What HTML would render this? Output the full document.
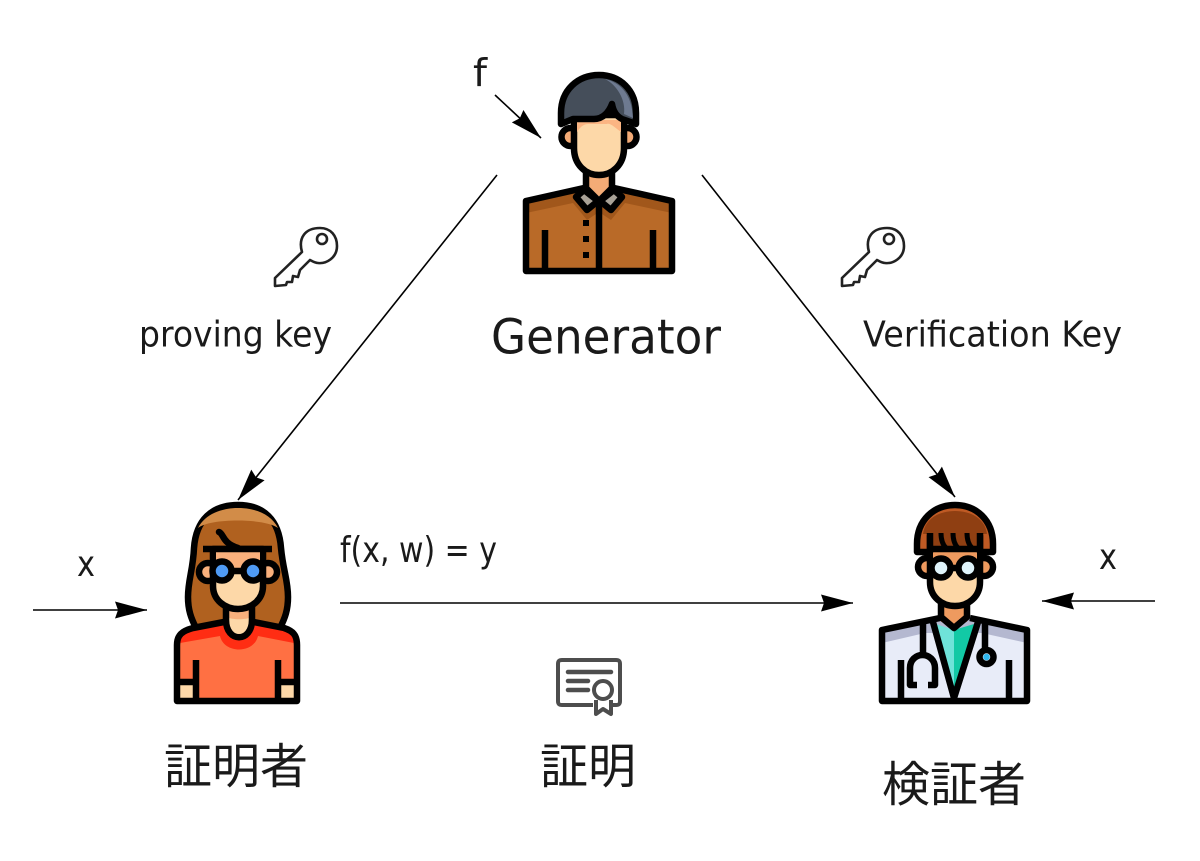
<!DOCTYPE html>
<html><head><meta charset="utf-8"><style>
html,body{margin:0;padding:0;background:#fff;width:1200px;height:861px;overflow:hidden}
svg{display:block}
text{fill:#1a1a1a;font-family:"DejaVu Sans","Liberation Sans",sans-serif}
.j{font-family:"Liberation Sans","Noto Sans CJK JP",sans-serif;font-size:48px}
.o{stroke:#000;stroke-width:6.5;stroke-linejoin:round;stroke-linecap:butt}
.l{fill:none;stroke:#000;stroke-width:6.5;stroke-linejoin:round}
.a{fill:none;stroke:#000;stroke-width:1.6}
.k{fill:none;stroke:#222;stroke-width:2.6;stroke-linejoin:round}
</style></head><body>
<svg width="1200" height="861" viewBox="0 0 1200 861" xmlns="http://www.w3.org/2000/svg">
<defs><marker id="m" markerUnits="userSpaceOnUse" viewBox="-32 -9 33 18" refX="0" refY="0" markerWidth="33" markerHeight="18" orient="auto"><path d="M0,0L-32,-8.5L-29,0L-32,8.5Z" fill="#000"/></marker></defs>

<!-- connectors -->
<line class="a" x1="497" y1="175" x2="238" y2="500" marker-end="url(#m)"/>
<line class="a" x1="702" y1="175" x2="955" y2="497" marker-end="url(#m)"/>
<line class="a" x1="495" y1="95" x2="541" y2="138" marker-end="url(#m)"/>
<line class="a" x1="33" y1="610" x2="147" y2="610" marker-end="url(#m)"/>
<line class="a" x1="340" y1="603" x2="853" y2="603" marker-end="url(#m)"/>
<line class="a" x1="1155" y1="601" x2="1042" y2="601" marker-end="url(#m)"/>

<!-- generator -->
<path d="M526,201L586,188L599,201L613,188L672,201V271H526Z" fill="#b96a28"/>
<path d="M526,201L586,188L599,201L613,188L672,201V213L625,203L611,220L599,212L587,220L573,203L526,213Z" fill="#a1571b"/>
<rect x="586" y="172" width="27" height="24" fill="#f4ab76"/>
<path d="M586,172V188L599,201L612,188V172" class="l"/>
<path d="M584,188L526,201V271H672V201L614,188" class="o" fill="none"/>
<path d="M576,197L587,210L598,201L584,190Z M622,197L611,210L600,201L614,190Z" fill="#a9a297" class="o"/>
<line x1="599" y1="202" x2="599" y2="271" class="l"/>
<rect x="583" y="220" width="6" height="6"/><rect x="583" y="236" width="6" height="6"/><rect x="583" y="252" width="6" height="6"/>
<line x1="545" y1="230" x2="545" y2="271" class="l"/><line x1="653" y1="230" x2="653" y2="271" class="l"/>
<circle cx="570.5" cy="137" r="9" fill="#f4ab76" class="o"/><circle cx="627.5" cy="137" r="9" fill="#f4ab76" class="o"/>
<path d="M574,115H624V148C624,165 612,175 599,175C586,175 574,165 574,148Z" fill="#fdd8a8" class="o"/>
<path d="M577,120H621V132C613,126 610,123 607,124H588C584,124 580,127 577,132Z" fill="#fbb583"/>
<path d="M561,124V113C561,90 578,75 599,75C620,75 636,90 636,113V124L622,119C616,116 613,110 612,104C609,112 603,119 594,119H573Z" fill="#454e5a" class="o"/>
<path d="M605,79C622,83 632,96 633,118L624,114C626,100 617,85 605,79Z" fill="#6e7a90"/>

<!-- prover -->
<path d="M238,505C212,505 196,520 194,548C193,570 188,580 188,597C188,610 191,618 196,628H280C285,618 288,610 288,597C288,580 283,570 281,548C279,520 264,505 238,505Z" fill="#b0611f" class="o"/>
<path d="M198,528C205,514 222,508 238,508C255,508 271,514 278,528C265,518 210,518 198,528Z" fill="#d28c48"/>
<path d="M177,701V645C177,635 182,631 193,628L222,622H256L284,628C293,631 297,635 297,645V701Z" fill="#ff7043"/>
<path d="M180,643C180,635 185,631 193,628L222,622H256L284,628C292,631 294,635 294,641V643L258,636C254,654 224,654 220,636Z" fill="#ff2d13"/>
<rect x="180" y="685" width="14" height="14" fill="#fdd8a8"/><rect x="281" y="685" width="13" height="14" fill="#fdd8a8"/>
<path d="M224,622L193,628C182,631 177,635 177,645V701H297V645C297,635 293,631 284,628L254,622" class="o" fill="none"/>
<path d="M196,660V701M278,660V701M176,682H196M278,682H298" class="l"/>
<path d="M226,604V620C226,643 252,643 252,620V604Z" fill="#fdd8a8"/>
<path d="M226,609H252V617C245,620 233,620 226,617Z" fill="#f9b07c"/>
<path d="M226,606V620C226,643 252,643 252,620V606" class="l"/>
<circle cx="208" cy="572" r="9" fill="#f9b07c" class="o"/><circle cx="268" cy="572" r="9" fill="#f9b07c" class="o"/>
<path d="M213,549H263V586C263,600 251,609 238,609C225,609 213,600 213,586Z" fill="#fdd8a8" class="o"/>
<path d="M216,552H260V571H216Z" fill="#f9b07c"/>
<path d="M203,549H272" class="l"/>
<path d="M219,532C224,534 222,543 238,548" class="l" stroke-linecap="round"/>
<line x1="232" y1="571" x2="244" y2="571" class="l"/>
<circle cx="222" cy="571" r="9.5" fill="#4f9bf5" class="o"/><circle cx="253" cy="571" r="9.5" fill="#4f9bf5" class="o"/>

<!-- verifier -->
<path d="M882,630L940,618H970L1027,630V701H882Z" fill="#e8ecf8"/>
<path d="M882,630L940,618H970L1027,630V643L982,633L925,633L882,643Z" fill="#b4b8d0"/>
<rect x="941" y="604" width="26" height="18" fill="#ee9a5f"/>
<path d="M941,618L954,629L967,618Z" fill="#ee9a5f"/>
<path d="M936,624L954,630V697Z" fill="#6fe3d9"/><path d="M974,624L954,630V697Z" fill="#12c9a5"/>
<path d="M941,604V617L954,628L967,617V604" class="l"/>
<path d="M940,618L882,630V701H1027V630L970,618" class="o" fill="none"/>
<path d="M933,622L954,698L978,622" class="l"/>
<path d="M901,660V701M1009,660V701" class="l"/>
<path d="M923,622V654" class="l"/>
<path d="M917,685H910V668C910,660 916,655 922.5,655C929,655 935,660 935,668V685H928" class="l"/>
<path d="M985,622V648" class="l"/>
<circle cx="986.5" cy="657" r="7" fill="#e8ecf8" class="o"/><circle cx="986.5" cy="657" r="3.3" fill="#2fb8ef"/>
<circle cx="927" cy="567" r="9" fill="#ee9a5f" class="o"/><circle cx="984" cy="567" r="9" fill="#ee9a5f" class="o"/>
<path d="M930,545H980V582C980,597 968,606 955,606C942,606 930,597 930,582Z" fill="#fdd8a8" class="o"/>
<rect x="933" y="551" width="44" height="17" fill="#ee9a5f"/>
<path d="M917,552V544C917,520 934,505 955,505C976,505 993,520 993,544V552H980V536H930V552Z" fill="#bf5a24" class="o"/>
<path d="M923,534C925,518 940,511 955,511C970,511 985,518 987,534Z" fill="#8f3f12"/>
<path d="M930,533H980V548H930Z" fill="#8f3f12"/>
<path d="M930,533V549H980V533" class="l"/>
<path d="M941,533C941,540 943,545 946,548M953,533C953,540 955,545 958,548M967,533C967,540 969,545 972,548" class="l" style="stroke-width:5"/>
<line x1="950" y1="568" x2="960" y2="568" class="l"/>
<circle cx="941" cy="568" r="9.5" fill="#dff4fb" class="o"/><circle cx="968" cy="568" r="9.5" fill="#dff4fb" class="o"/>

<!-- keys -->
<g>
<path class="k" d="M302,252C298,238 305,228 320,228C331,228 337,236 337,246C337,258 326,264 318,263C315,263 312,261 310,260L300,270L298,277L293,276L292,282L287,282L286,285L275,286V278Z"/>
<circle class="k" cx="322" cy="239" r="5"/>
</g>
<g transform="translate(567,0)">
<path class="k" d="M302,252C298,238 305,228 320,228C331,228 337,236 337,246C337,258 326,264 318,263C315,263 312,261 310,260L300,270L298,277L293,276L292,282L287,282L286,285L275,286V278Z"/>
<circle class="k" cx="322" cy="239" r="5"/>
</g>

<!-- certificate -->
<path d="M593,705H562C559,705 558,704 558,701V664C558,661 559,660 562,660H616C619,660 620,661 620,664V701C620,704 619,705 616,705H613" fill="none" stroke="#4d4d4d" stroke-width="4"/>
<path d="M568,672H611M568,681H588M568,690H588" stroke="#4d4d4d" stroke-width="4.5" stroke-linecap="round" fill="none"/>
<circle cx="603" cy="690" r="9" fill="#fff" stroke="#4d4d4d" stroke-width="4"/>
<path d="M596,700V714L603,709L611,714V700" fill="none" stroke="#4d4d4d" stroke-width="4" stroke-linejoin="round"/>

<!-- labels -->
<text x="473" y="86" font-size="38" textLength="14" lengthAdjust="spacingAndGlyphs">f</text>
<text x="139" y="346.5" font-size="36" textLength="193" lengthAdjust="spacingAndGlyphs">proving key</text>
<text x="491" y="353.5" font-size="48" textLength="230" lengthAdjust="spacingAndGlyphs">Generator</text>
<text x="863" y="346.5" font-size="36" textLength="259" lengthAdjust="spacingAndGlyphs">Verification Key</text>
<text x="340" y="562" font-size="36" textLength="157" lengthAdjust="spacingAndGlyphs">f(x, w) = y</text>
<text x="77" y="576" font-size="36" textLength="18" lengthAdjust="spacingAndGlyphs">x</text>
<text x="1099" y="569" font-size="36" textLength="18" lengthAdjust="spacingAndGlyphs">x</text>
<text class="j" x="164" y="783">証明者</text>
<text class="j" x="540" y="783">証明</text>
<text class="j" x="882" y="801">検証者</text>
</svg>
</body></html>
